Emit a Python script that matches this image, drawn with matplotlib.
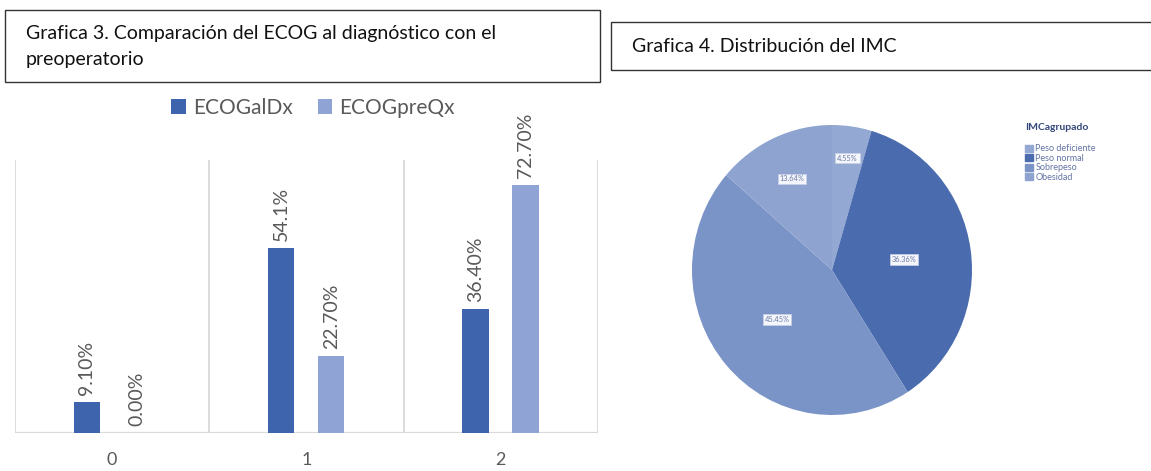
import numpy as np
import matplotlib
matplotlib.use("Agg")
import matplotlib.pyplot as plt
from matplotlib.patches import Rectangle, Patch

plt.rcParams['font.family'] = ['Lato', 'DejaVu Sans']

# ECOG data (percent)
ecog_cats = ["0", "1", "2"]
ecog_dx = [9.10, 54.1, 36.40]
ecog_preqx = [0.00, 22.70, 72.70]
ecog_dx_labels = ["9.10%", "54.1%", "36.40%"]
ecog_preqx_labels = ["0.00%", "22.70%", "72.70%"]

# IMC data (percent)
imc_groups = ["Peso deficiente", "Peso normal", "Sobrepeso", "Obesidad"]
imc_pct = [4.55, 36.36, 45.45, 13.64]

W, H = 1151, 471
fig = plt.figure(figsize=(W / 100, H / 100), dpi=100)


def px_axes(x0, y0, x1, y1):
    # pixel box (top-left origin) -> figure axes
    return fig.add_axes([x0 / W, 1 - y1 / H, (x1 - x0) / W, (y1 - y0) / H])


# title boxes
fig.patches.append(Rectangle((5 / W, 1 - 82 / H), 595 / W, 72 / H, transform=fig.transFigure,
                             fill=False, ec="#333333", lw=1.0))
fig.text(26 / W, 1 - 33 / H, "Grafica 3. Comparación del ECOG al diagnóstico con el",
         fontsize=14, va="center", color="#111111")
fig.text(26 / W, 1 - 60 / H, "preoperatorio", fontsize=14, va="center", color="#111111")

fig.patches.append(Rectangle((611 / W, 1 - 70 / H), 560 / W, 48 / H, transform=fig.transFigure,
                             fill=False, ec="#333333", lw=1.0, clip_on=False))
fig.text(632 / W, 1 - 47 / H, "Grafica 4. Distribución del IMC",
         fontsize=14, va="center", color="#111111")

# ---- bar chart ----
dark = "#3d64ad"
light = "#8fa4d5"
ax = px_axes(15, 160, 598, 433)
x = np.arange(len(ecog_cats))
bw = 0.135
b1 = ax.bar(x - 0.13, ecog_dx, bw, color=dark, label="ECOGalDx", zorder=3)
b2 = ax.bar(x + 0.127, ecog_preqx, bw, color=light, label="ECOGpreQx", zorder=3)
for bars, labs in ((b1, ecog_dx_labels), (b2, ecog_preqx_labels)):
    for r, t in zip(bars, labs):
        ax.annotate(t, (r.get_x() + r.get_width() / 2, r.get_height()),
                    xytext=(0, 5), textcoords="offset points", rotation=90,
                    ha="center", va="bottom", fontsize=14, color="#595959")
ax.set_xlim(-0.5, 2.5)
ax.set_ylim(0, 80)
for xv in np.arange(-0.5, 3, 1):
    ax.axvline(xv, color="#d9d9d9", lw=1.3, zorder=1)
ax.axhline(0, color="#d9d9d9", lw=1.6, zorder=2)
for s in ax.spines.values():
    s.set_visible(False)
ax.set_yticks([])
ax.set_xticks(x)
ax.set_xticklabels(ecog_cats, fontsize=13, color="#595959")
ax.tick_params(axis="x", length=0, pad=14)
ax.legend(loc="center", bbox_to_anchor=(313 / W, 1 - 108 / H), bbox_transform=fig.transFigure,
          ncol=2, frameon=False, fontsize=15, handlelength=0.7, handleheight=0.7,
          handletextpad=0.35, columnspacing=1.2, labelcolor="#595959")

# ---- pie chart ----
pie_colors = ["#94a8d4", "#4a6bad", "#7b94c7", "#8ea3cf"]
cx, cy, rx, ry = 832, 270, 140, 145
pax = px_axes(cx - 150, cy - 155, cx + 150, cy + 155)
wedges, _ = pax.pie(imc_pct, colors=pie_colors, startangle=90, counterclock=False,
                    wedgeprops=dict(linewidth=0))
pax.set_aspect("auto")
pax.set_xlim(-150 / rx, 150 / rx)
pax.set_ylim(-155 / ry, 155 / ry)

label_r = [0.78, 0.52, 0.52, 0.69]
cum = 0.0
for p, rr in zip(imc_pct, label_r):
    mid = np.deg2rad(90 - (cum + p / 2) * 3.6)
    cum += p
    pax.text(rr * np.cos(mid), rr * np.sin(mid), f"{p:.2f}%", fontsize=5.3, ha="center",
             va="center", color="#6c7aa6",
             bbox=dict(boxstyle="square,pad=0.25", fc="#f4f6fb", ec="#c9d1e6", lw=0.5))

fig.text(1025 / W, 1 - 128 / H, "IMCagrupado", fontsize=7.5, weight="bold",
         color="#33467a", va="center")
handles = [Patch(color=c) for c in pie_colors]
fig.legend(handles, imc_groups, loc="upper left",
           bbox_to_anchor=(1019 / W, 1 - 138 / H), frameon=False, fontsize=6.5,
           handlelength=0.8, handleheight=0.8, handletextpad=0.3, labelspacing=0.05,
           labelcolor="#6474a4", borderpad=0.2)

fig.savefig("out.png", dpi=100)
